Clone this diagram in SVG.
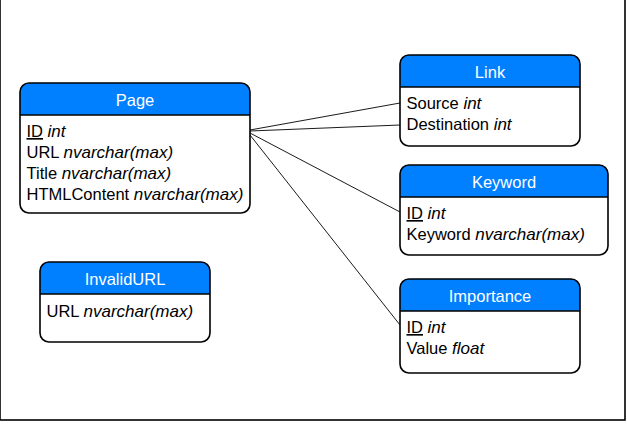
<svg xmlns="http://www.w3.org/2000/svg" width="627" height="424" viewBox="0 0 627 424">
<style>
.body{fill:#fff;stroke:none}
.hdr{fill:#0080ff;stroke:none}
.out{fill:none;stroke:#000;stroke-width:1.6}
.sep{stroke:#000;stroke-width:1.3}
text{font-family:"Liberation Sans",Arial,Helvetica,sans-serif;font-size:16.5px;fill:#000}
.t{fill:#fff;text-anchor:middle}
.i{font-style:italic;font-size:17px}
.u{text-decoration:underline}
.c{stroke:#000;stroke-width:0.9;fill:none}
</style>
<rect x="0" y="-1" width="625" height="421" fill="#fff" stroke="#000" stroke-width="1.6"/>
<g id="connectors">
<line class="c" x1="250" y1="130" x2="400" y2="103"/>
<line class="c" x1="250" y1="131" x2="400" y2="125"/>
<line class="c" x1="250" y1="133" x2="400" y2="212"/>
<line class="c" x1="250" y1="135" x2="400" y2="325"/>
</g>
<g id="page">
<rect class="body" x="20" y="83" width="230" height="130" rx="9"/>
<path class="hdr" d="M20,115 V92 A9,9 0 0 1 29,83 H241 A9,9 0 0 1 250,92 V115 Z"/>
<rect class="out" x="20" y="83" width="230" height="130" rx="9"/>
<line class="sep" x1="20" y1="115" x2="250" y2="115"/>
<text class="t" x="135" y="106">Page</text>
<text x="26.5" y="137"><tspan class="u">ID</tspan> <tspan class="i">int</tspan></text>
<text x="26.5" y="158">URL <tspan class="i">nvarchar(max)</tspan></text>
<text x="26.5" y="179">Title <tspan class="i">nvarchar(max)</tspan></text>
<text x="26.5" y="200">HTMLContent <tspan class="i">nvarchar(max)</tspan></text>
</g>
<g id="link">
<rect class="body" x="400" y="55" width="180" height="91" rx="9"/>
<path class="hdr" d="M400,87 V64 A9,9 0 0 1 409,55 H571 A9,9 0 0 1 580,64 V87 Z"/>
<rect class="out" x="400" y="55" width="180" height="91" rx="9"/>
<line class="sep" x1="400" y1="87" x2="580" y2="87"/>
<text class="t" x="490" y="78">Link</text>
<text x="406.5" y="109">Source <tspan class="i">int</tspan></text>
<text x="406.5" y="130">Destination <tspan class="i">int</tspan></text>
</g>
<g id="keyword">
<rect class="body" x="400" y="165" width="208" height="90" rx="9"/>
<path class="hdr" d="M400,197 V174 A9,9 0 0 1 409,165 H599 A9,9 0 0 1 608,174 V197 Z"/>
<rect class="out" x="400" y="165" width="208" height="90" rx="9"/>
<line class="sep" x1="400" y1="197" x2="608" y2="197"/>
<text class="t" x="504" y="188">Keyword</text>
<text x="406.5" y="219"><tspan class="u">ID</tspan> <tspan class="i">int</tspan></text>
<text x="406.5" y="240">Keyword <tspan class="i">nvarchar(max)</tspan></text>
</g>
<g id="invalidurl">
<rect class="body" x="40" y="262" width="170" height="80" rx="9"/>
<path class="hdr" d="M40,294 V271 A9,9 0 0 1 49,262 H201 A9,9 0 0 1 210,271 V294 Z"/>
<rect class="out" x="40" y="262" width="170" height="80" rx="9"/>
<line class="sep" x1="40" y1="294" x2="210" y2="294"/>
<text class="t" x="125" y="285">InvalidURL</text>
<text x="46.5" y="317">URL <tspan class="i">nvarchar(max)</tspan></text>
</g>
<g id="importance">
<rect class="body" x="400" y="279" width="180" height="94" rx="9"/>
<path class="hdr" d="M400,311 V288 A9,9 0 0 1 409,279 H571 A9,9 0 0 1 580,288 V311 Z"/>
<rect class="out" x="400" y="279" width="180" height="94" rx="9"/>
<line class="sep" x1="400" y1="311" x2="580" y2="311"/>
<text class="t" x="490" y="302">Importance</text>
<text x="406.5" y="333"><tspan class="u">ID</tspan> <tspan class="i">int</tspan></text>
<text x="406.5" y="354">Value <tspan class="i">float</tspan></text>
</g>
</svg>
